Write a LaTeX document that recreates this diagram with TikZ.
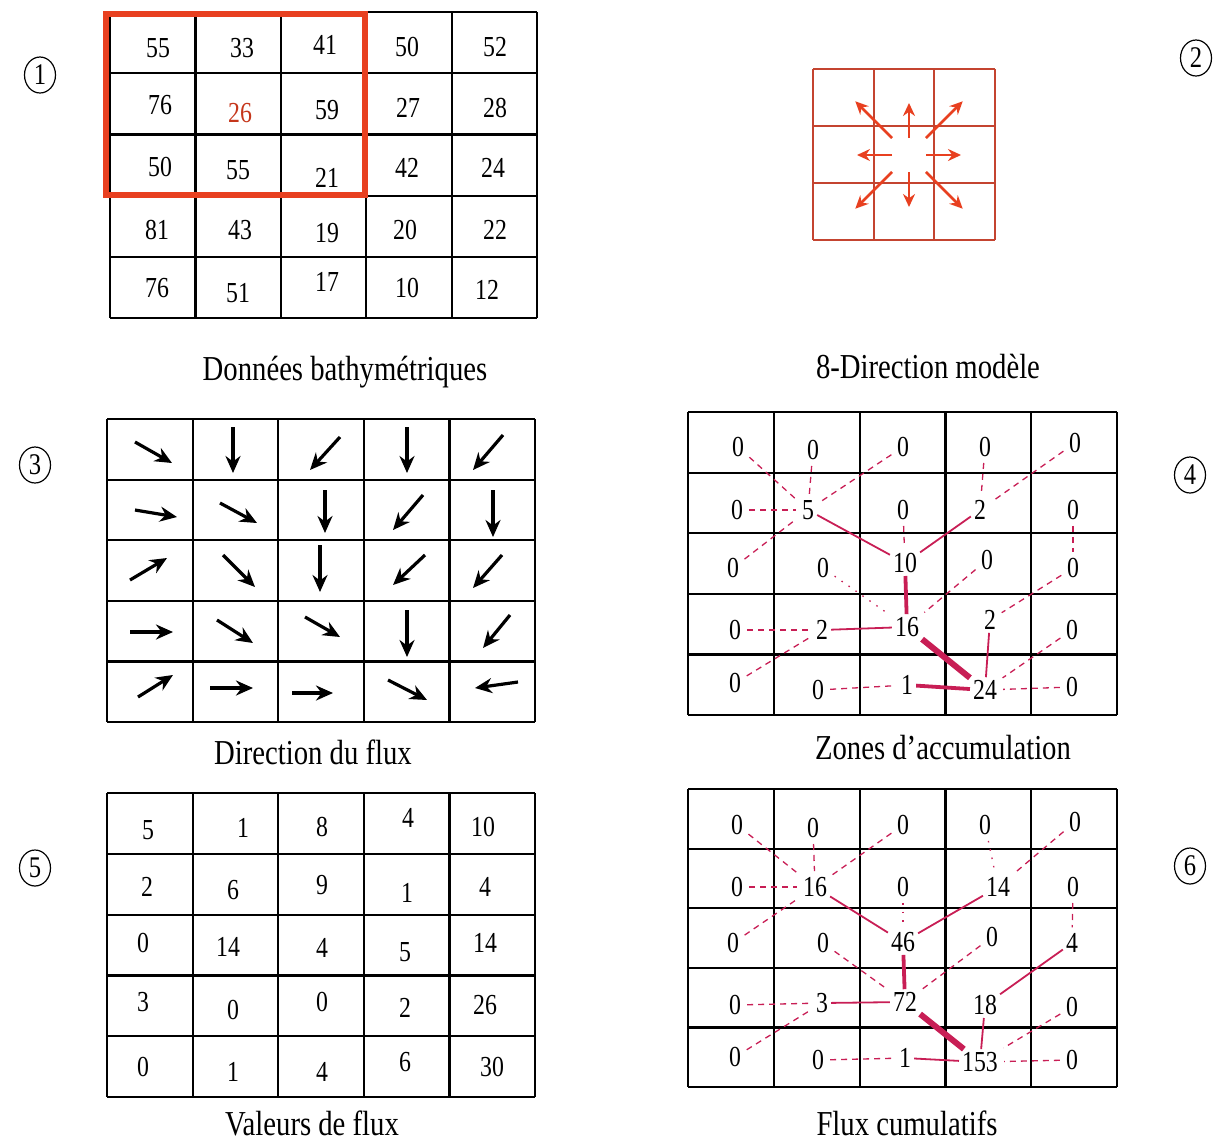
\documentclass[tikz,border=0pt]{standalone}
\usepackage{fontspec}
\setmainfont{Liberation Serif}[FakeStretch=0.82]
\usetikzlibrary{arrows.meta,shapes.geometric}
\definecolor{boxred}{RGB}{232,64,32}
\definecolor{gridred}{RGB}{196,68,48}
\definecolor{flow}{RGB}{200,30,85}
% grid of n x n cells: colour, x0, y0, cell width, cell height, n
\newcommand{\cellgrid}[6]{%
  \foreach \i in {0,...,#6}{%
    \draw[#1] ({#2+\i*#4},#3) -- ({#2+\i*#4},{#3+#6*#5});
    \draw[#1] (#2,{#3+\i*#5}) -- ({#2+#6*#4},{#3+\i*#5});}}

\begin{document}
\begin{tikzpicture}[x=1pt,y=-1pt,
  num/.style={font=\fontsize{29}{32}\selectfont,inner sep=3pt},
  paneltitle/.style={font=\fontsize{35}{38}\selectfont,inner sep=0pt},
  circnum/.style={draw,ellipse,line width=1.2pt,minimum width=31pt,minimum height=36pt,inner sep=0pt,font=\fontsize{30}{32}\selectfont},
  gline/.style={black,line width=2.2pt},
  rline/.style={gridred,line width=2pt},
  farrow/.style={line width=3.2pt,-{Stealth[length=17pt,width=15pt]}},
  dirarrow/.style={boxred,line width=2.6pt,-{Stealth[length=13pt,width=12pt]}},
  flowdash/.style={flow,line width=1.3pt,dash pattern=on 6pt off 5pt,shorten <=3pt,shorten >=3pt},
  flowdot/.style={flow,line width=1.3pt,dash pattern=on 1.5pt off 7pt,shorten <=3pt,shorten >=3pt},
  flowthin/.style={flow,line width=1.8pt},
  flowmid/.style={flow,line width=3.8pt},
  flowthick/.style={flow,line width=6pt}]
\useasboundingbox (0,0) rectangle (1228,1144);

% circled panel numbers
\node[circnum] (c1) at (40,75) {1};
\node[circnum] (c2) at (1196,58) {2};
\node[circnum] (c3) at (35,465) {3};
\node[circnum] (c4) at (1190,475) {4};
\node[circnum] (c5) at (35,868) {5};
\node[circnum] (c6) at (1190,866) {6};

% 1: bathymetry
\cellgrid{gline}{110}{12}{85.4}{61.2}{5}
\draw[boxred,line width=5.5pt] (106,14) rectangle (365,195);
\foreach \n/\x/\y/\v in {b11/158/48/55,b12/242/48/33,b13/325/45/41,b14/407/47/50,b15/495/47/52,
  b21/160/105/76,b23/327/110/59,b24/408/108/27,b25/495/108/28,
  b31/160/167/50,b32/238/170/55,b33/327/178/21,b34/407/168/42,b35/493/168/24,
  b41/157/230/81,b42/240/230/43,b43/327/233/19,b44/405/230/20,b45/495/230/22,
  b51/157/288/76,b52/238/293/51,b53/327/282/17,b54/407/288/10,b55/487/290/12}
  \node[num] (\n) at (\x,\y) {\v};
\node[num,text=boxred!85!black] (b22) at (240,113) {26};
\node[paneltitle] (t1) at (345,372) {Données bathymétriques};

% 2: eight directions
\cellgrid{rline}{813}{69}{60.7}{57}{3}
\coordinate (dc) at (909,155);
\foreach \a in {0,90,180,270}
  \draw[dirarrow] ([shift={(\a:17)}]dc) -- ([shift={(\a:52)}]dc);
\foreach \a in {45,135,225,315}
  \draw[dirarrow] ([shift={(\a:24)}]dc) -- ([shift={(\a:76)}]dc);
\node[paneltitle] (t2) at (928,366) {8-Direction modèle};

% 3: flow direction
\cellgrid{gline}{107}{419}{85.6}{60.6}{5}
\foreach \xa/\ya/\xb/\yb in {135/442/172/463,233/427/233/473,340/437/310/470,407/427/407/473,503/435/473/470,
  135/510/177/517,220/503/257/523,325/490/325/533,423/495/393/530,493/490/493/537,
  130/580/167/558,223/555/255/587,320/545/320/592,425/555/393/585,502/555/473/588,
  130/632/173/632,217/620/253/643,305/617/340/637,407/610/407/657,510/615/483/648,
  138/697/173/675,210/688/253/688,292/693/333/693,388/680/427/700,518/682/475/688}
  \draw[farrow] (\xa,\ya) -- (\xb,\yb);
\node[paneltitle] (t3) at (313,752) {Direction du flux};

% 5: flow values
\cellgrid{gline}{107}{793}{85.6}{60.8}{5}
\foreach \n/\x/\y/\v in {v11/148/830/5,v12/243/828/1,v13/322/827/8,v14/408/818/4,v15/483/827/10,
  v21/147/887/2,v22/233/890/6,v23/322/885/9,v24/407/893/1,v25/485/887/4,
  v31/143/943/0,v32/228/947/14,v33/322/948/4,v34/405/952/5,v35/485/943/14,
  v41/143/1002/3,v42/233/1010/0,v43/322/1002/0,v44/405/1008/2,v45/485/1005/26,
  v51/143/1067/0,v52/233/1072/1,v53/322/1072/4,v54/405/1062/6,v55/492/1067/30}
  \node[num] (\n) at (\x,\y) {\v};
\node[paneltitle] (t5) at (312,1123) {Valeurs de flux};

% 4: accumulation zones
\cellgrid{gline}{688}{412}{85.8}{60.6}{5}
\foreach \n/\x/\y/\v in {z11/738/447/0,z12/813/450/0,z13/903/447/0,z14/985/447/0,z15/1075/443/0,
  z21/737/510/0,z22/808/510/5,z23/903/510/0,z24/980/510/2,z25/1073/510/0,
  z31/733/568/0,z32/823/568/0,z33/905/563/10,z34/987/560/0,z35/1073/568/0,
  z41/735/630/0,z42/822/630/2,z43/907/627/16,z44/990/620/2,z45/1072/630/0,
  z51/735/683/0,z52/818/690/0,z53/907/685/1,z54/985/690/24,z55/1072/687/0}
  \node[num] (\n) at (\x,\y) {\v};
\foreach \a/\b in {z11/z22,z12/z22,z13/z22,z21/z22,z31/z22,z23/z33,z14/z24,z15/z24,z25/z35,
  z34/z43,z41/z42,z35/z44,z45/z54,z51/z42,z52/z53,z55/z54}
  \draw[flowdash] (\a) -- (\b);
\draw[flowdot] (z32) -- (z43);
\foreach \a/\b in {z22/z33,z24/z33,z42/z43,z44/z54}
  \draw[flowthin] (\a) -- (\b);
\draw[flowmid] (z33) -- (z43);
\draw[flowmid] (z53) -- (z54);
\draw[flowthick] (z43) -- (z54);
\node[paneltitle] (t4) at (943,748) {Zones d’accumulation};

% 6: cumulative flow
\cellgrid{gline}{688}{789}{85.8}{59.6}{5}
\foreach \n/\x/\y/\v in {f11/737/825/0,f12/813/828/0,f13/903/825/0,f14/985/825/0,f15/1075/822/0,
  f21/737/887/0,f22/815/887/16,f23/903/887/0,f24/998/887/14,f25/1073/887/0,
  f31/733/943/0,f32/823/943/0,f33/903/942/46,f34/992/937/0,f35/1072/943/4,
  f41/735/1005/0,f42/822/1003/3,f43/905/1002/72,f44/985/1005/18,f45/1072/1007/0,
  f51/735/1057/0,f52/818/1060/0,f53/905/1058/1,f54/980/1062/153,f55/1072/1060/0}
  \node[num] (\n) at (\x,\y) {\v};
\foreach \a/\b in {f11/f22,f12/f22,f13/f22,f21/f22,f31/f22,f15/f24,f25/f35,f32/f43,f34/f43,
  f41/f42,f51/f42,f45/f54,f52/f53,f55/f54}
  \draw[flowdash] (\a) -- (\b);
\draw[flowdot] (f23) -- (f33);
\draw[flowdot] (f14) -- (f24);
\foreach \a/\b in {f22/f33,f24/f33,f35/f44,f42/f43,f44/f54,f53/f54}
  \draw[flowthin] (\a) -- (\b);
\draw[flowmid] (f33) -- (f43);
\draw[flowthick] (f43) -- (f54);
\node[paneltitle] (t6) at (907,1123) {Flux cumulatifs};
\end{tikzpicture}
\end{document}
